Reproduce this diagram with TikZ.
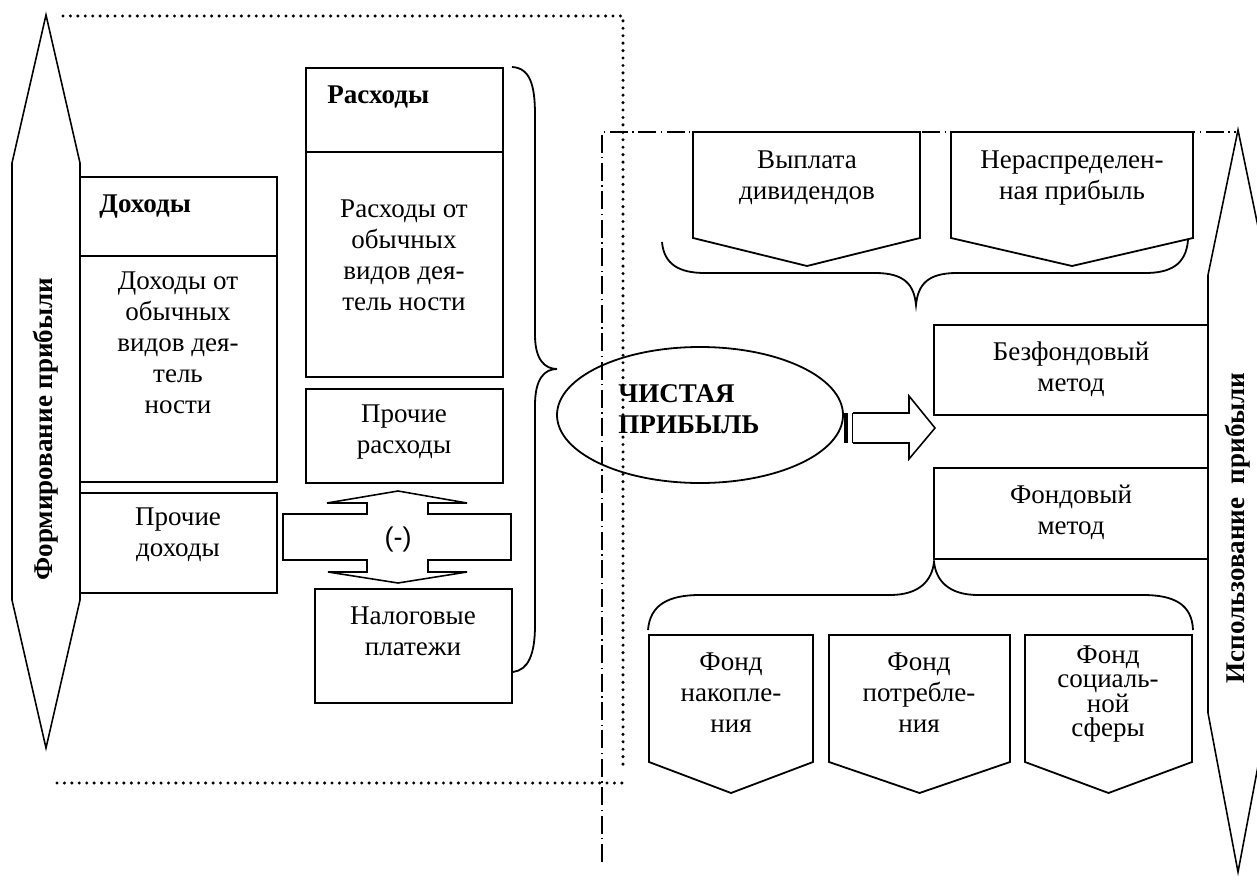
\documentclass[tikz,border=0pt]{standalone}
\usepackage{fontspec}
\setmainfont{Liberation Serif}
\newfontfamily\minusfont{Liberation Sans}
\usetikzlibrary{positioning,calc}

\newcommand{\boxfont}{\fontsize{12}{13.8}\selectfont}

\tikzset{
  box/.style={line width=0.8pt},
  bigarrow/.style={line width=0.7pt},
  brace/.style={line width=0.8pt},
  txt/.style={align=center, font=\boxfont, inner sep=0pt},
  head/.style={anchor=west, align=left, font=\boxfont\bfseries, inner sep=0pt},
  dotline/.style={line width=1.5pt, line cap=round, dash pattern=on 0pt off 3.3pt},
  dashdotline/.style={line width=0.5pt, dash pattern=on 8pt off 2pt on 0.6pt off 2pt},
}

\begin{document}
\begin{tikzpicture}[x=0.444pt, y=-0.444pt]
    \clip (0,0) rectangle (1257,894);

    % frames
    \draw[dotline] (63,16) -- (623,16) -- (623,767);
    \draw[dotline] (57,783) -- (627,783);
    \draw[dashdotline] (602,862) -- (602,132) -- (1236,132);

    % side arrows
    \draw[bigarrow] (46,15) -- (80,163) -- (80,600) -- (46,748) -- (12,600) -- (12,163) -- cycle;
    \node[rotate=90, font=\boxfont\bfseries] (form) at (46,429) {Формирование прибыли};
    \draw[bigarrow] (1238,130) -- (1268,275) -- (1268,713) -- (1238,872) -- (1208,713) -- (1208,275) -- cycle;
    \node[rotate=90, font=\boxfont\bfseries] (use) at (1238,528) {Использование\ \ прибыли};

    % incomes
    \draw[box] (80,177) rectangle (277,256);
    \draw[box] (80,256) rectangle (277,482);
    \draw[box] (80,493) rectangle (277,593);
    \node[head] (doh) at (99,207) {Доходы};
    \node[txt] (dohob) at (178,343) {Доходы от\\обычных\\видов дея-\\тель\\ности};
    \node[txt] (prdoh) at (178,535) {Прочие\\доходы};

    % expenses
    \draw[box] (306,68) rectangle (503,152);
    \draw[box] (306,152) rectangle (503,377);
    \draw[box] (306,389) rectangle (503,483);
    \node[head] (ras) at (327,97) {Расходы};
    \node[txt] (rasob) at (404,255) {Расходы от\\обычных\\видов дея-\\тель ности};
    \node[txt] (prras) at (404,432) {Прочие\\расходы};
    \draw[box] (315,589) rectangle (512,703);
    \node[txt] (nal) at (413,631) {Налоговые\\платежи};

    % minus arrow
    \draw[bigarrow] (398,491) -- (467,503) -- (428,503) -- (428,514) -- (511,514) -- (511,560)
        -- (428,560) -- (428,572) -- (467,572) -- (398,583) -- (328,572) -- (367,572) -- (367,560)
        -- (283,560) -- (283,514) -- (367,514) -- (367,503) -- (327,503) -- cycle;
    \node[font=\minusfont\fontsize{12}{14}\selectfont] (minus) at (398,540) {(-)};

    \draw[brace] (512,67) .. controls (530,68) and (535,85) .. (535,115) -- (535,335)
        .. controls (535,360) and (545,369) .. (557,369) .. controls (545,369) and (535,378) .. (535,405)
        -- (535,625) .. controls (535,655) and (528,670) .. (513,672);

    % net profit
    \draw[box] (700,415) ellipse [x radius=143, y radius=68];
    \node[head] (net) at (618,409) {ЧИСТАЯ\\ПРИБЫЛЬ};
    \draw[bigarrow] (853,413) -- (909,413) -- (909,396) -- (935,428) -- (909,459) -- (909,443) -- (853,443);
    \draw[line width=2.2pt] (846,413) -- (846,443);
    \draw[line width=0.7pt] (852.5,413) -- (852.5,443);

    % distribution
    \draw[box] (693,132) -- (920,132) -- (920,238) -- (807,266) -- (693,238) -- cycle;
    \node[txt] (div) at (807,178) {Выплата\\дивидендов};
    \draw[box] (951,132) -- (1193,132) -- (1193,238) -- (1072,266) -- (951,238) -- cycle;
    \node[txt] (ner) at (1072,178) {Нераспределен-\\ная прибыль};
    \draw[brace] (662,242) .. controls (664,265) and (680,273) .. (705,273) -- (875,273)
        .. controls (905,273) and (914,285) .. (916,305) .. controls (918,285) and (927,273) .. (957,273)
        -- (1145,273) .. controls (1170,273) and (1186,265) .. (1188,240);

    \draw[box] (934,325) rectangle (1208,415);
    \node[txt] (bez) at (1071,369) {Безфондовый\\метод};
    \draw[box] (934,468) rectangle (1208,559);
    \node[txt] (fond) at (1071,512) {Фондовый\\метод};

    \draw[brace] (648,630) .. controls (650,605) and (668,595) .. (700,595) -- (890,595)
        .. controls (920,595) and (932,580) .. (934,562) .. controls (936,580) and (948,595) .. (978,595)
        -- (1143,595) .. controls (1175,595) and (1192,605) .. (1193,630);

    % funds
    \foreach \l/\r in {649/813, 829/1010, 1025/1192}
        \draw[box] (\l,635) -- (\r,635) -- (\r,762) -- ({(\l+\r)/2},793) -- (\l,762) -- cycle;
    \node[txt] (nak) at (731,693) {Фонд\\накопле-\\ния};
    \node[txt] (pot) at (919,693) {Фонд\\потребле-\\ния};
    \node[txt, font=\fontsize{12}{10.8}\selectfont] (soc) at (1108,694) {Фонд\\социаль-\\ной\\сферы};
\end{tikzpicture}
\end{document}
